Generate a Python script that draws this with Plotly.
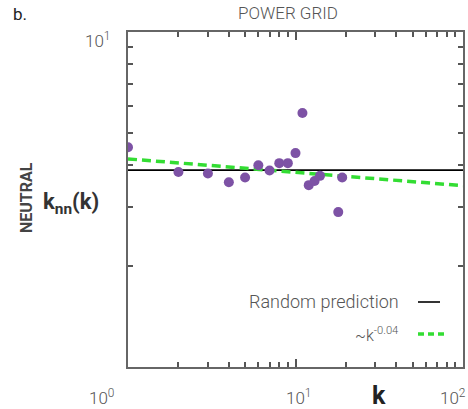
import numpy as np
import plotly.graph_objects as go

# data
k_vals = [1, 2, 3, 4, 5, 6, 7, 8, 9, 10, 11, 12, 13, 14, 18, 19]
knn_vals = [4.53, 3.82, 3.78, 3.56, 3.68, 4.00, 3.86, 4.06, 4.06, 4.35, 5.73, 3.49, 3.59, 3.72, 2.90, 3.68]
random_pred = 3.87
fit_amp = 4.18
fit_exp = -0.04
x_range_k = [1, 100]
x_tick_labels = ["10<sup>0</sup>", "10<sup>1</sup>", "10<sup>2</sup>"]
y_tick_labels = ["10<sup>1</sup>"]

FONT = "Roboto"
GRAY = "#555555"
AX = "#555555"

# plot area geometry (pixels)
W, H = 468, 409
L, R, T, B = 128, 463, 32, 367
PW, PH = R - L, B - T

fig = go.Figure()

fig.add_trace(go.Scatter(x=x_range_k, y=[random_pred, random_pred], mode="lines",
                         line=dict(color="black", width=1.6), showlegend=False, hoverinfo="skip"))
kk = np.logspace(0, 2, 60)
fig.add_trace(go.Scatter(x=kk, y=fit_amp * kk ** fit_exp, mode="lines",
                         line=dict(color="#33dd33", width=3.5, dash="9px,5px"),
                         showlegend=False, hoverinfo="skip"))
fig.add_trace(go.Scatter(x=k_vals, y=knn_vals, mode="markers",
                         marker=dict(color="#7d52a5", size=10, line=dict(width=0)),
                         showlegend=False))

axis_common = dict(type="log", showgrid=False, zeroline=False, showline=True,
                   linecolor="#666666", linewidth=1.5, ticks="inside", mirror="allticks",
                   tickcolor=AX, tickwidth=1.5, showticklabels=False, automargin=False,
                   dtick=1)
xa = dict(range=[0, 2], ticklen=8,
          minor=dict(ticks="inside", ticklen=5, tickcolor=AX, tickwidth=1.5, dtick="D1",
                     showgrid=False),
          **axis_common)
ya = dict(range=[0, 1], ticklen=8,
          minor=dict(ticks="inside", ticklen=5, tickcolor=AX, tickwidth=1.5, dtick="D1",
                     showgrid=False),
          **axis_common)

ann = []
for xp, t in zip([101, 298, 453], x_tick_labels):
    ann.append(dict(x=xp, y=397, text=t, font=dict(family=FONT, size=17, color=GRAY, weight=300)))
ann.append(dict(x=97, y=40, text=y_tick_labels[0], font=dict(family=FONT, size=17, color=GRAY, weight=300)))
ann.append(dict(x=379, y=395, text="<b>k</b>", font=dict(family=FONT, size=25, color="#222222")))
ann.append(dict(x=288, y=13, text="POWER GRID", font=dict(family=FONT, size=17, color=GRAY, weight=300)))
ann.append(dict(x=20, y=14, text="b.", font=dict(family=FONT, size=17, color="#222222")))
ann.append(dict(x=26, y=198, text="<b>NEUTRAL</b>", textangle=-90,
                font=dict(family=FONT, size=16, color="#444444")))
ann.append(dict(x=71, y=203, text="<b>k<sub>nn</sub>(k)</b>",
                font=dict(family=FONT, size=22, color="#333333")))
ann.append(dict(x=401, y=301, text="Random prediction", xanchor="right",
                font=dict(family=FONT, size=18, color=GRAY, weight=300)))
ann.append(dict(x=401, y=334, text="~k<sup>-0.04</sup>", xanchor="right",
                font=dict(family=FONT, size=16, color=GRAY, weight=300)))


def px(x):
    return (x - L) / PW


def py(y):
    return (B - y) / PH


for a in ann:
    a["xref"] = "paper"; a["yref"] = "paper"; a["showarrow"] = False
    a["x"] = px(a["x"])
    a["y"] = py(a["y"])
    a.setdefault("xanchor", "center")
    a["yanchor"] = "middle"

shapes = [
    dict(type="line", xref="paper", yref="paper", x0=px(418), x1=px(440), y0=py(302), y1=py(302),
         line=dict(color="black", width=1.6)),
    dict(type="line", xref="paper", yref="paper", x0=px(418), x1=px(444), y0=py(334), y1=py(334),
         line=dict(color="#33dd33", width=3.5, dash="6px,4px")),
]

fig.update_layout(width=W, height=H, margin=dict(l=L, r=W - R, t=T, b=H - B, autoexpand=False),
                  plot_bgcolor="white", paper_bgcolor="white",
                  xaxis=xa, yaxis=ya,
                  annotations=ann, shapes=shapes, showlegend=False)

fig.write_html("out.html")
